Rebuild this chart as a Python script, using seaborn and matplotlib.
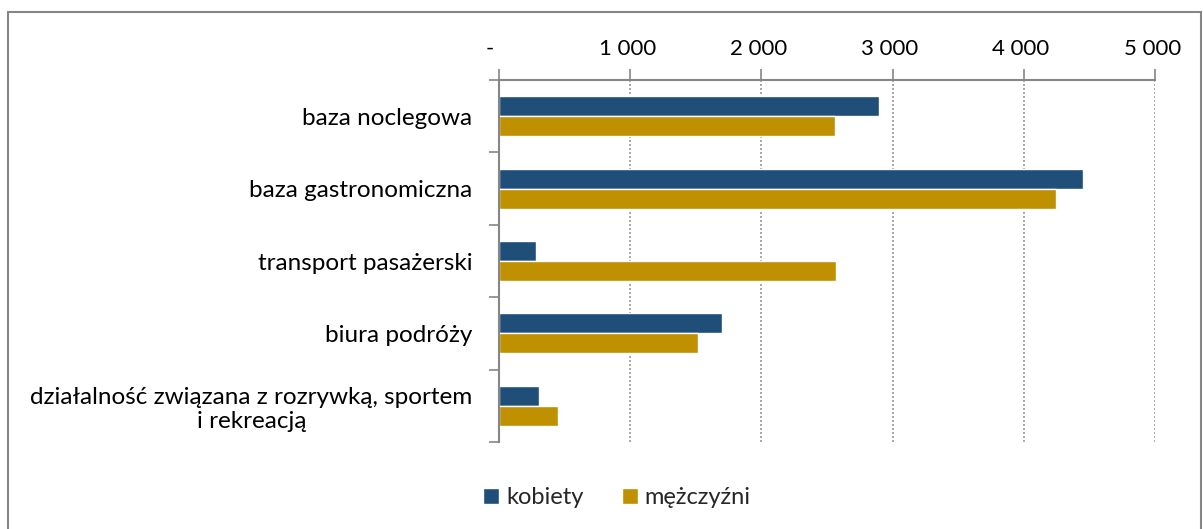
import matplotlib
matplotlib.use("Agg")
import matplotlib.pyplot as plt
from matplotlib.patches import Rectangle
from matplotlib.ticker import FixedLocator
import seaborn as sns
import pandas as pd

categories = [
    "baza noclegowa",
    "baza gastronomiczna",
    "transport pasażerski",
    "biura podróży",
    "działalność związana z rozrywką, sportem\ni rekreacją",
]
kobiety = [2900, 4450, 280, 1700, 305]
mezczyzni = [2560, 4245, 2570, 1515, 452]
series_names = ["kobiety", "mężczyźni"]
colors = ["#1F4E79", "#BF9000"]
xticks = [0, 1000, 2000, 3000, 4000, 5000]
xtick_labels = ["-   ", "1 000 ", "2 000 ", "3 000 ", "4 000 ", "5 000 "]

df = pd.DataFrame({
    "kategoria": categories * 2,
    "wartosc": kobiety + mezczyzni,
    "seria": [series_names[0]] * len(categories) + [series_names[1]] * len(categories),
})

sns.set_theme(style="white")
plt.rcParams["font.family"] = ["Lato", "DejaVu Sans"]

W, H = 1203, 529
fig = plt.figure(figsize=(W / 100, H / 100), dpi=100)
ax = fig.add_axes([499 / W, 1 - 442 / H, (1155 - 499) / W, (442 - 80) / H])

sns.barplot(data=df, y="kategoria", x="wartosc", hue="seria", orient="h",
            palette=colors, width=0.55, gap=0, ax=ax, legend=True,
            saturation=1)

ax.set_xlim(0, 5000)
ax.set_ylim(4.5, -0.5)
ax.set_xlabel("")
ax.set_ylabel("")

grey = "#868686"
ax.xaxis.tick_top()
ax.set_xticks(xticks)
ax.set_xticklabels(xtick_labels, fontsize=16, color="#000000")
ax.tick_params(axis="x", direction="out", length=8, width=1.2, color=grey, pad=7, top=True, bottom=False)
ax.grid(axis="x", linestyle=(0, (1.2, 1.2)), color="#9a9a9a", linewidth=1.2)
ax.grid(axis="y", visible=False)

ax.set_yticks(range(len(categories)))
ax.set_yticklabels(categories, fontsize=17.5, color="#000000", multialignment="center")
ax.tick_params(axis="y", which="major", length=0, pad=19)
ax.yaxis.set_minor_locator(FixedLocator([i + 0.5 for i in range(-1, len(categories))]))
ax.tick_params(axis="y", which="minor", direction="out", length=7, width=1.2, color=grey, left=True)

for side in ["right", "bottom"]:
    ax.spines[side].set_visible(False)
for side in ["top", "left"]:
    ax.spines[side].set_color(grey)
    ax.spines[side].set_linewidth(1.5)

handles, labels = ax.get_legend_handles_labels()
ax.get_legend().remove()
fig.legend(handles, labels, loc="center", bbox_to_anchor=(617 / W, 1 - 498 / H),
           ncol=2, frameon=False, fontsize=17, handlelength=0.68, handleheight=0.68,
           handletextpad=0.3, columnspacing=1.6)

fig.patches.append(Rectangle((8 / W, -0.05), (1201 - 8) / W, 1.05 - 12 / H,
                             transform=fig.transFigure, fill=False,
                             edgecolor="#868686", linewidth=1.5))

fig.savefig("out.png", dpi=100)
